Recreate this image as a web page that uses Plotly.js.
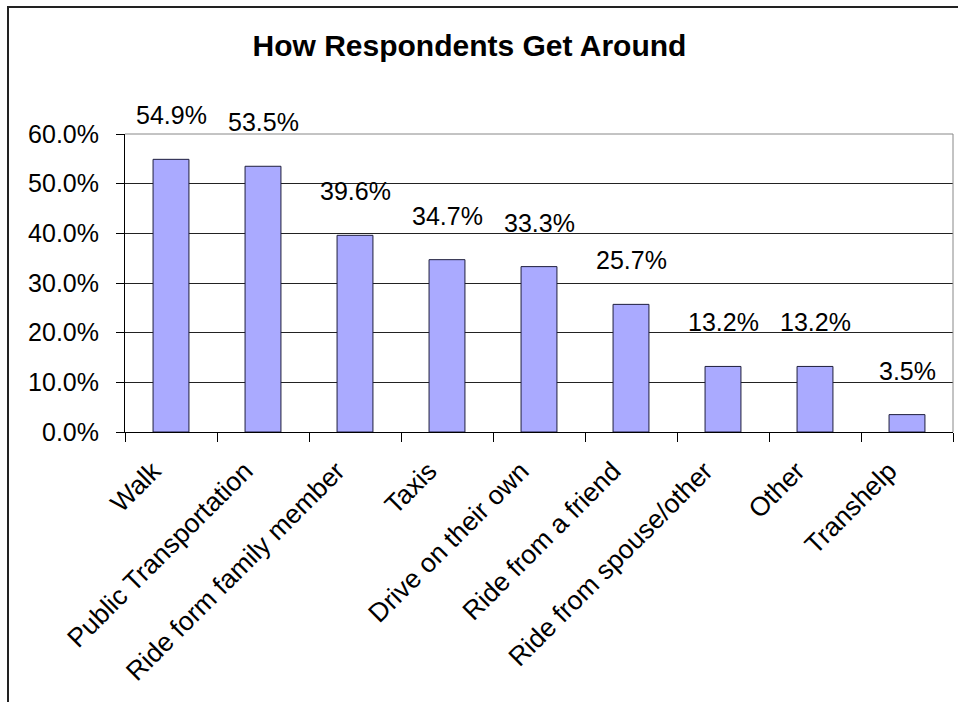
<!DOCTYPE html>
<html>
<head>
<meta charset="utf-8">
<script src="https://cdn.plot.ly/plotly-3.0.1.min.js"></script>
<style>
html,body{margin:0;padding:0;background:#fff;}
#chart{width:958px;height:702px;}
#frame{position:absolute;left:7px;top:6px;width:960px;height:710px;border-left:2px solid #222;border-top:2px solid #222;pointer-events:none;box-sizing:border-box;}
</style>
</head>
<body>
<div id="chart"></div>
<div id="frame"></div>
<script>
const categories = ["Walk", "Public Transportation", "Ride form family member", "Taxis", "Drive on their own", "Ride from a friend", "Ride from spouse/other", "Other", "Transhelp"];
const shares = [0.549, 0.535, 0.396, 0.347, 0.333, 0.257, 0.132, 0.132, 0.035];
const yTicks = [0, 0.1, 0.2, 0.3, 0.4, 0.5, 0.6];
const chartTitle = "How Respondents Get Around";

const FONT = "Arial, 'Liberation Sans', sans-serif";

const trace = {
  type: "bar",
  x: categories,
  y: shares,
  marker: {color: "#AAAAFF", line: {color: "#1e1e3c", width: 1}},
  width: 0.39,
  hoverinfo: "none"
};

const annotations = categories.map((c, i) => ({
  x: c, y: shares[i], xref: "x", yref: "y",
  text: (shares[i] * 100).toFixed(1) + "%",
  showarrow: false, yanchor: "middle", yshift: 44,
  font: {family: FONT, size: 25, color: "#000"}
}));

const layout = {
  width: 958, height: 702,
  margin: {l: 125, r: 5, t: 134, b: 270, pad: 0},
  paper_bgcolor: "#fff", plot_bgcolor: "#fff",
  showlegend: false,
  title: {text: "<b>" + chartTitle + "</b>", x: 0.49, xref: "container", xanchor: "center", y: 0.935, yanchor: "middle",
          font: {family: FONT, size: 30, color: "#000"}},
  xaxis: {
    type: "category", tickangle: -45, tickson: "boundaries",
    ticks: "outside", ticklen: 9, tickcolor: "#000", tickwidth: 1,
    showline: true, linecolor: "#000", linewidth: 1,
    showgrid: false, zeroline: false,
    ticklabelshift: -18, ticklabelstandoff: 12,
    tickfont: {family: FONT, size: 26.5, color: "#000"},
    fixedrange: true
  },
  yaxis: {
    range: [0, 0.6], tickvals: yTicks, tickformat: ".1%",
    ticks: "outside", ticklen: 8, tickcolor: "#000", tickwidth: 1,
    showline: true, linecolor: "#000", linewidth: 1,
    showgrid: true, gridcolor: "#222", gridwidth: 1,
    zeroline: false, ticklabelstandoff: 12,
    tickfont: {family: FONT, size: 25, color: "#000"},
    fixedrange: true
  },
  shapes: [
    {type: "line", xref: "paper", yref: "paper", x0: 0, x1: 1, y0: 1, y1: 1, line: {color: "#888", width: 1}, layer: "above"},
    {type: "line", xref: "paper", yref: "paper", x0: 1, x1: 1, y0: 0, y1: 1, line: {color: "#888", width: 1}, layer: "above"}
  ],
  annotations: annotations,
  bargap: 0.61
};

Plotly.newPlot("chart", [trace], layout, {displayModeBar: false, staticPlot: true});
</script>
</body>
</html>
